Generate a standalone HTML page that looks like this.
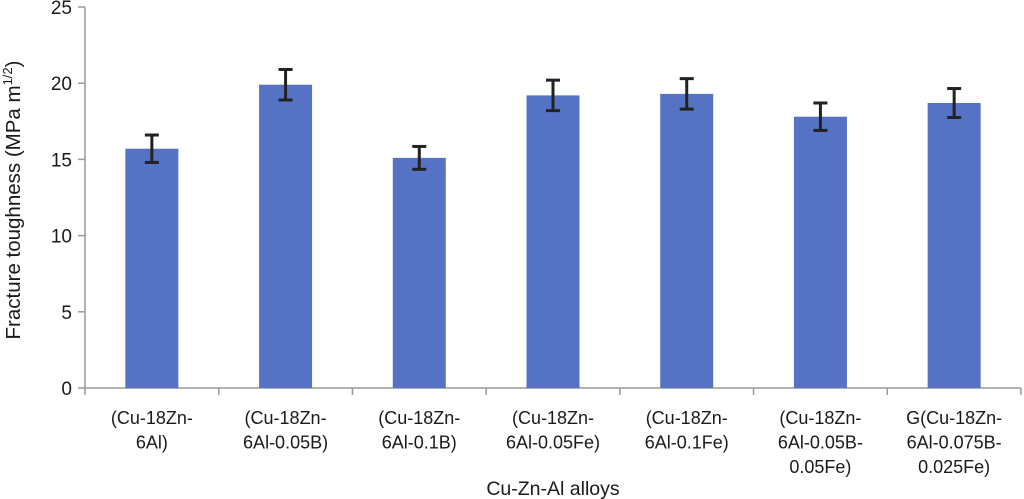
<!DOCTYPE html>
<html><head><meta charset="utf-8"><style>
html,body{margin:0;padding:0;background:#fff;width:1024px;height:499px;overflow:hidden}
svg text{font-family:"Liberation Sans",Arial,sans-serif;fill:#1a1a1a}
</style></head><body>
<svg id="chart" width="1024" height="499" viewBox="0 0 1024 499" xmlns="http://www.w3.org/2000/svg"></svg>
<script>
const categories = [["(Cu-18Zn-","6Al)"],["(Cu-18Zn-","6Al-0.05B)"],["(Cu-18Zn-","6Al-0.1B)"],["(Cu-18Zn-","6Al-0.05Fe)"],["(Cu-18Zn-","6Al-0.1Fe)"],["(Cu-18Zn-","6Al-0.05B-","0.05Fe)"],["G(Cu-18Zn-","6Al-0.075B-","0.025Fe)"]];
const values = [15.7, 19.9, 15.1, 19.2, 19.3, 17.8, 18.7];
const errors = [0.9, 1.0, 0.75, 1.0, 1.0, 0.9, 0.95];
const yTicks = [0, 5, 10, 15, 20, 25];

const svg = document.getElementById('chart');
const NS = 'http://www.w3.org/2000/svg';
const x0 = 85, x1 = 1021, y0 = 388, yTop = 7, yMax = 25;
const bw = (x1 - x0) / categories.length;
const yScale = v => y0 - (v / yMax) * (y0 - yTop);
const xCenter = i => x0 + bw * (i + 0.5);
function mk(tag, attrs, parent) {
  const e = document.createElementNS(NS, tag);
  for (const k in attrs) e.setAttribute(k, attrs[k]);
  (parent || svg).appendChild(e);
  return e;
}
const axes = mk('g', {});


let yl = mk('line', {x1: x0, y1: yTop, x2: x0, y2: y0, stroke: '#999', 'stroke-width': 1.5}, axes);


let xl = mk('line', {x1: x0, y1: y0, x2: x1, y2: y0, stroke: '#999', 'stroke-width': 1.5}, axes);


yTicks.forEach(t => {
  const y = yScale(t);
  const tk = mk('line', {x1: x0 - 7, y1: y, x2: x0, y2: y, stroke: '#999', 'stroke-width': 1.5}, axes);
  
  
  const tx = mk('text', {x: 72, y: y + 7, 'text-anchor': 'end', 'font-size': 19}, axes);
  tx.textContent = t;
  
  
});
for (let i = 0; i <= categories.length; i++) {
  const x = x0 + bw * i;
  const tk = mk('line', {x1: x, y1: y0, x2: x, y2: y0 + 7, stroke: '#999', 'stroke-width': 1.5}, axes);
  
  
}
const barW = 53;
values.forEach((v, i) => {
  const cx = xCenter(i);
  const b = mk('rect', {x: cx - barW / 2, y: yScale(v), width: barW, height: y0 - yScale(v), fill: '#5572c4'});
  
  
  const g = mk('g', {stroke: '#222', 'stroke-width': 3});
  
  
  const hi = yScale(v + errors[i]), lo = yScale(v - errors[i]);
  mk('line', {x1: cx, y1: hi, x2: cx, y2: lo}, g);
  mk('line', {x1: cx - 7, y1: hi, x2: cx + 7, y2: hi}, g);
  mk('line', {x1: cx - 7, y1: lo, x2: cx + 7, y2: lo}, g);
  categories[i].forEach((line, j) => {
    const t = mk('text', {x: cx, y: 424 + j * 24.5, 'text-anchor': 'middle', 'font-size': 18});
    t.textContent = line;
    
    
  });
});
const xt = mk('text', {x: 553, y: 495, 'text-anchor': 'middle', 'font-size': 19.5});
xt.textContent = 'Cu-Zn-Al alloys';


const yt = mk('text', {x: 0, y: 0, 'text-anchor': 'middle', 'font-size': 20.5, transform: 'translate(20,200) rotate(-90)'});
yt.innerHTML = 'Fracture toughness (MPa m<tspan dy="-8" font-size="13">1/2</tspan><tspan dy="8">)</tspan>';


</script>
</body></html>
